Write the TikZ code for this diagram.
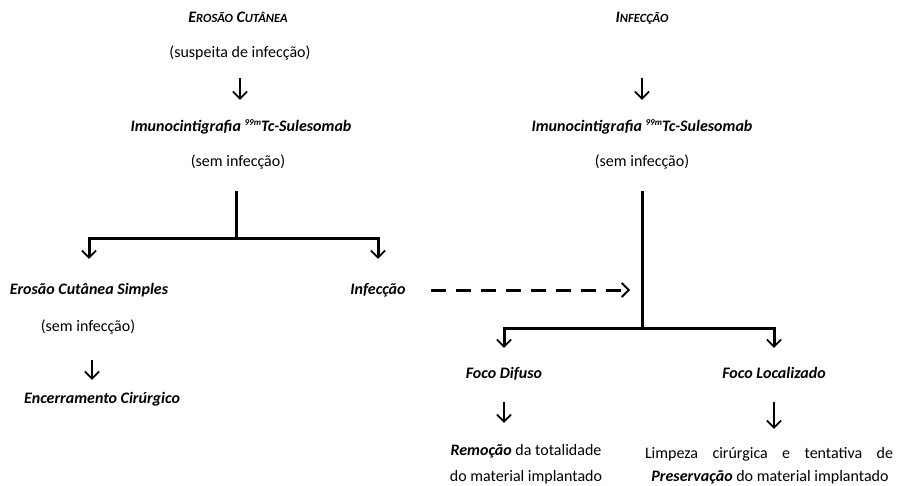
\documentclass[tikz,border=0pt]{standalone}
\usepackage{fontspec}
\setmainfont{Carlito}
\usetikzlibrary{arrows.meta}
\newcommand\smc[2]{#1{\fontsize{12.5}{14}\selectfont #2}}
\newcommand\tinysup[1]{\raisebox{5.5pt}{\fontsize{9}{9}\selectfont #1}}
\begin{document}
\begin{tikzpicture}[x=1pt,y=-1pt,
  t/.style={inner sep=0pt, text height=12pt, text depth=4pt, anchor=base, font=\fontsize{16}{19}\selectfont},
  tb/.style={t, font=\fontsize{16}{19}\selectfont\bfseries\itshape},
  vtip/.tip={Straight Barb[angle=90:10pt, line width=1.8pt]},
  arr/.style={line width=1.8pt, -vtip},
  br/.style={line width=3pt},
  brarr/.style={line width=3pt, -vtip},
  dasharr/.style={line width=3pt, dash pattern=on 15pt off 10pt, -vtip}]
\useasboundingbox (0,0) rectangle (903,485);
% left column
\node[tb] (title1) at (238,22) {\smc{E}{ROSÃO} \smc{C}{UTÂNEA}};
\node[t] (susp) at (240,57) {(suspeita de infecção)};
\node[tb] (imu1) at (241,131) {Imunocintigrafia \tinysup{99m}Tc-Sulesomab};
\node[t] (sem1) at (238,166) {(sem infecção)};
\node[tb] (ecs) at (89,294) {Erosão Cutânea Simples};
\node[tb] (inf) at (378,294) {Infecção};
\node[t] (sem3) at (88,331) {(sem infecção)};
\node[tb] (enc) at (102,403) {Encerramento Cirúrgico};
% right column
\node[tb] (title2) at (642,22) {\smc{I}{NFECÇÃO}};
\node[tb] (imu2) at (642,131) {Imunocintigrafia \tinysup{99m}Tc-Sulesomab};
\node[t] (sem2) at (642,166) {(sem infecção)};
\node[tb] (fd) at (504,378) {Foco Difuso};
\node[tb] (fl) at (774,378) {Foco Localizado};
\node[t] (rem1) at (526,455) {\textbf{\textit{Remoção}} da totalidade};
\node[t] (rem2) at (526,481) {do material implantado};
\node[t] (lim1) at (769,458) {\makebox[248pt][s]{Limpeza cirúrgica e tentativa de}};
\node[t] (lim2) at (770,481) {\textbf{\textit{Preservação}} do material implantado};
% connectors
\draw[arr, shorten <=17pt, shorten >=19pt] (susp.south) -- (susp.south |- imu1.north);
\draw[arr, shorten <=52pt, shorten >=19pt] (title2.south) -- (title2.south |- imu2.north);
\draw[br] ([xshift=-2pt,yshift=-21pt]sem1.south) -- ([xshift=-2pt,yshift=-68pt]sem1.south) coordinate (j1);
\draw[brarr, shorten >=23pt] (j1) -| (ecs.north);
\draw[brarr, shorten >=23pt] (j1) -| (inf.north);
\draw[br] ([yshift=-21pt]sem2.south) -- ([yshift=-158pt]sem2.south) coordinate (j2);
\draw[brarr, shorten >=18pt] (j2) -| (fd.north);
\draw[brarr, shorten >=18pt] (j2) -| (fl.north);
\draw[dasharr, shorten <=25pt, shorten >=12pt] (inf.east) -- (inf.east -| j2);
\draw[arr, shorten <=25pt, shorten >=11pt] ([xshift=4pt]sem3.south) -- ([xshift=4pt]sem3.south |- enc.north);
\draw[arr, shorten <=20pt, shorten >=20pt] (fd.south) -- (fd.south |- rem1.north);
\draw[arr, shorten <=20pt, shorten >=17pt] (fl.south) -- (fl.south |- lim1.north);
\end{tikzpicture}
\end{document}
